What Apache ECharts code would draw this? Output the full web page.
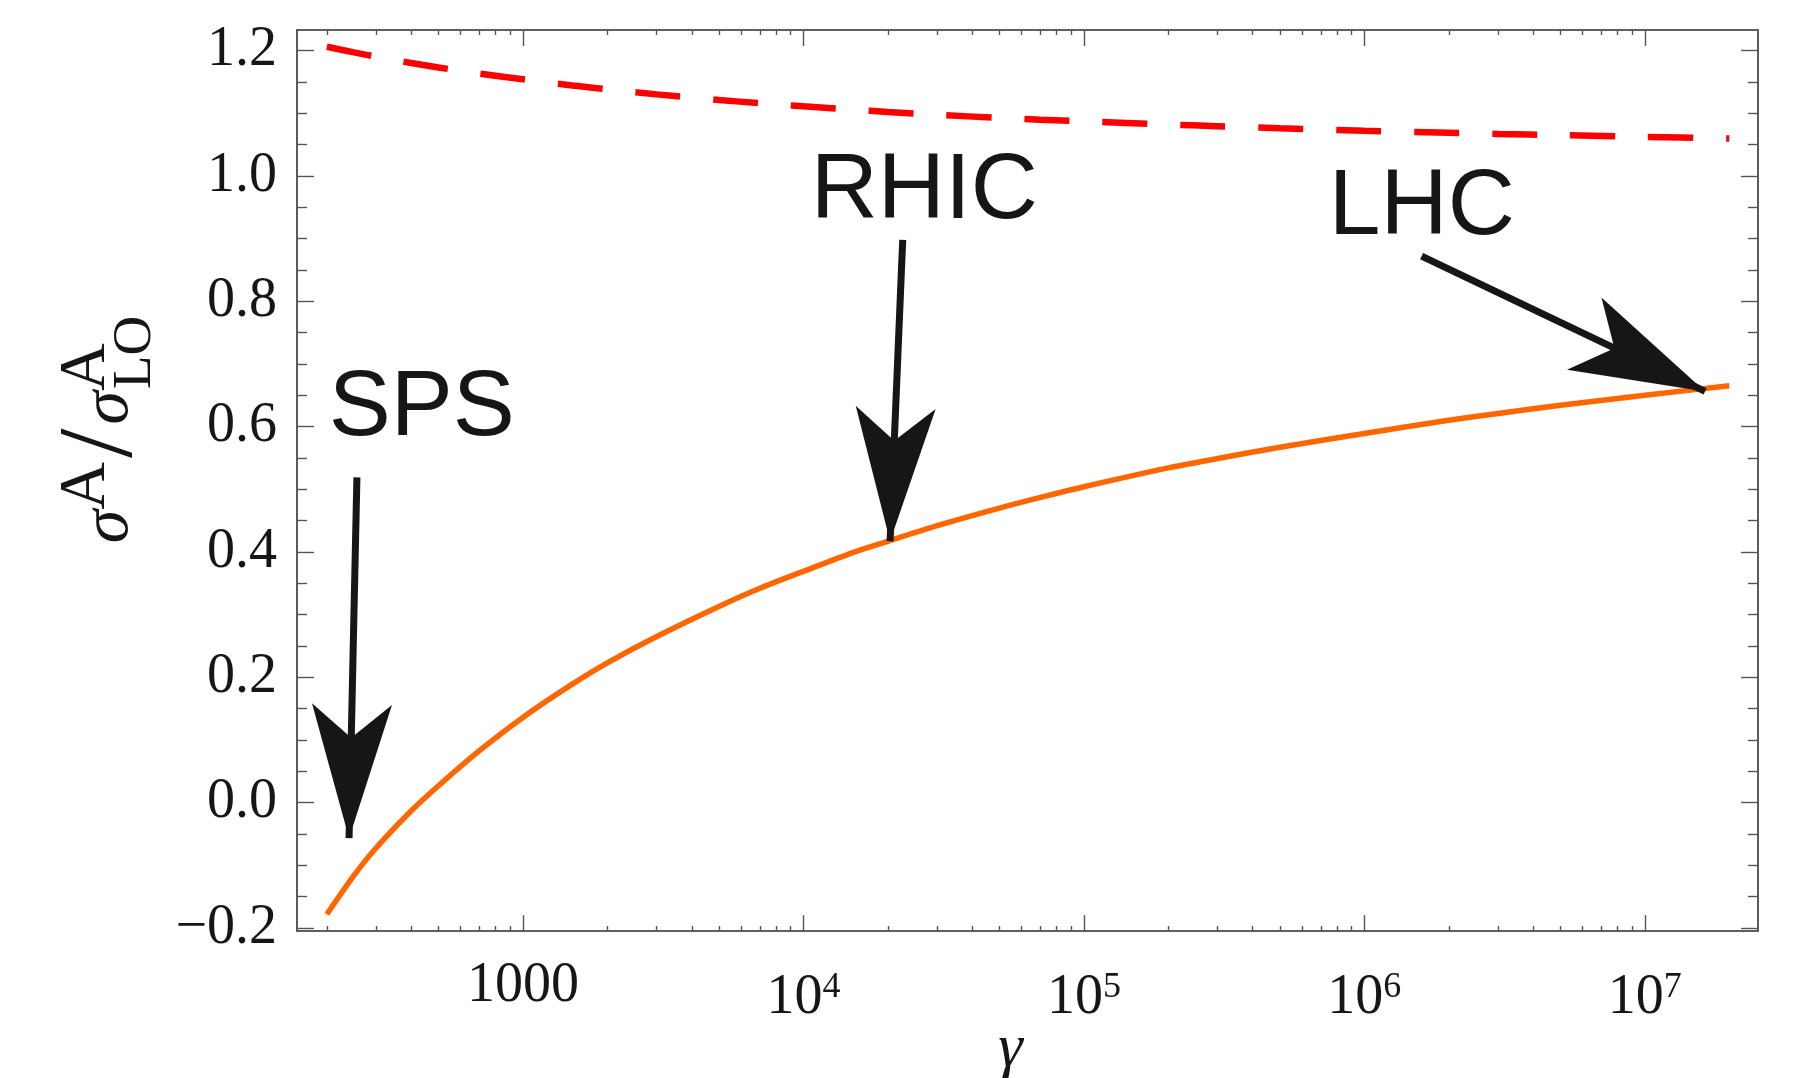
<!DOCTYPE html>
<html><head><meta charset="utf-8">
<script src="https://cdn.jsdelivr.net/npm/echarts@6.0.0/dist/echarts.min.js"></script>
<style>html,body{margin:0;padding:0;background:#fff}#c{width:1805px;height:1078px}</style>
</head><body><div id="c"></div>
<script>
// ---- data ----
const gammaValues = [200, 250, 300, 400, 500, 700, 1000, 1500, 2000, 3000, 5000, 7000, 1e4, 1.5e4, 2e4, 3e4, 5e4, 7e4, 1e5, 2e5, 3e5, 5e5, 1e6, 2e6, 3e6, 5e6, 1e7, 2e7];
const ratioSolid  = [-0.178, -0.116, -0.072, -0.013, 0.027, 0.083, 0.136, 0.189, 0.223, 0.265, 0.313, 0.342, 0.369, 0.399, 0.417, 0.442, 0.470, 0.487, 0.504, 0.534, 0.549, 0.567, 0.589, 0.610, 0.621, 0.634, 0.650, 0.665];
const ratioDashed = [1.206, 1.197, 1.190, 1.180, 1.173, 1.163, 1.154, 1.144, 1.138, 1.130, 1.121, 1.116, 1.111, 1.1057, 1.102, 1.0974, 1.0925, 1.0894, 1.087, 1.082, 1.0793, 1.076, 1.072, 1.0687, 1.0669, 1.0649, 1.0622, 1.0596];
const xMajorTicks = [1000, 1e4, 1e5, 1e6, 1e7];
const xMinorDecades = [100, 1000, 1e4, 1e5, 1e6];
const yMajorTicks = [-0.2, 0, 0.2, 0.4, 0.6, 0.8, 1.0, 1.2];
const annotationNames = ['SPS', 'RHIC', 'LHC'];
const annotationTextAt = [[436, 0.628], [26980, 0.973], [1.603e6, 0.948]];
const arrowFrom = [[256, 0.519], [22600, 0.898], [1.6e6, 0.872]];
const arrowTo   = [[240, -0.0567], [20370, 0.417], [1.64e7, 0.656]];

// ---- helpers ----
const L = Math.log10;
const LOG_MIN = 2.1946, LOG_MAX = 7.4034;
const Y_MIN = -0.2048, Y_MAX = 1.2327;
const FRAME = '#555555', INK = '#161616';
const SERIF = '"Liberation Serif", "Times New Roman", serif';
const SANS = '"Liberation Sans", Arial, sans-serif';

const xMajorLog = xMajorTicks.map(L);
const xMinorLog = [];
xMinorDecades.forEach(d => { for (let k = 2; k <= 9; k++) { const lv = L(k * d); if (lv > LOG_MIN && lv < LOG_MAX) xMinorLog.push(lv); } });
const yMinor = [];
for (let i = 0; i < yMajorTicks.length - 1; i++) {
  for (let j = 1; j <= 3; j++) yMinor.push(Math.round((yMajorTicks[i] + j * 0.05) * 100) / 100);
}

function axisCfg(pos, min, max, ticks, len, lab) {
  return {
    type: 'value', position: pos, min: min, max: max,
    axisLine: { show: true, onZero: false, lineStyle: { color: FRAME, width: 1.6 } },
    axisTick: { show: true, inside: true, length: len, customValues: ticks, lineStyle: { color: FRAME, width: 1.4 } },
    axisLabel: lab ? Object.assign({ show: true, color: INK, fontFamily: SERIF, fontSize: 56 }, lab) : { show: false },
    splitLine: { show: false }
  };
}
const xAxisCfg = (pos, ticks, len, lab) => axisCfg(pos, LOG_MIN, LOG_MAX, ticks, len, lab);
const yAxisCfg = (pos, ticks, len, lab) => axisCfg(pos, Y_MIN, Y_MAX, ticks, len, lab);

const powerRich = {
  base: { fontFamily: SERIF, fontSize: 56, lineHeight: 56, verticalAlign: 'bottom', color: INK },
  sup: { fontFamily: SERIF, fontSize: 36, lineHeight: 25, verticalAlign: 'top', color: INK }
};

const xBottomMajor = xAxisCfg('bottom', xMajorLog, 16, {
  customValues: xMajorLog.slice(1), margin: 39, rich: powerRich,
  formatter: v => '{base|10}{sup|' + Math.round(v) + '}'
});
Object.assign(xBottomMajor, {
  name: 'γ', nameLocation: 'middle', nameGap: 88, nameMoveOverlap: false,
  nameTextStyle: { fontFamily: SERIF, fontStyle: 'italic', fontSize: 62, color: INK, padding: [0, 34, 0, 0] }
});

const xBottomMinor = xAxisCfg('bottom', xMinorLog, 5, {
  customValues: [xMajorLog[0]], margin: 27,
  formatter: v => String(Math.round(Math.pow(10, v)))
});

const yLeftMajor = yAxisCfg('left', yMajorTicks, 17, {
  customValues: yMajorTicks, margin: 20,
  formatter: v => (v < 0 ? '\u2212' : '') + Math.abs(v).toFixed(1)
});
Object.assign(yLeftMajor, {
  name: '{s|σ}{a|A}{g|}{sl|/}{g|}{s|σ}{a2|A}{b|LO}',
  nameLocation: 'middle', nameRotate: 90, nameGap: 135, nameMoveOverlap: false,
  nameTextStyle: {
    color: INK, padding: [0, 0, 0, 102],
    rich: {
      s:  { align: 'left', fontFamily: SERIF, fontStyle: 'italic', fontSize: 68, lineHeight: 68, verticalAlign: 'middle', color: INK },
      a:  { align: 'left', fontFamily: SERIF, fontSize: 66, lineHeight: 66, verticalAlign: 'middle', padding: [0, 0, 44, 0], color: INK },
      a2: { align: 'left', fontFamily: SERIF, fontSize: 66, lineHeight: 66, verticalAlign: 'middle', padding: [0, 0, 44, 0], width: 2, color: INK },
      g:  { align: 'left', width: 4 },
      sl: { align: 'left', fontFamily: SERIF, fontSize: 106, lineHeight: 106, verticalAlign: 'middle', padding: [0, 0, 12, 0], color: INK },
      b:  { align: 'left', fontFamily: SERIF, fontSize: 55, lineHeight: 55, verticalAlign: 'middle', padding: [54, 0, 0, 0], color: INK }
    }
  }
});

const chart = echarts.init(document.getElementById('c'), null, { renderer: 'canvas' });
chart.setOption({
  animation: false,
  backgroundColor: '#ffffff',
  grid: { left: 297, right: 47, top: 30, bottom: 147, containLabel: false, outerBoundsMode: 'none' },
  xAxis: [
    xBottomMajor,
    xBottomMinor,
    xAxisCfg('top', xMajorLog, 16, null),
    xAxisCfg('top', xMinorLog, 5, null)
  ],
  yAxis: [
    yLeftMajor,
    yAxisCfg('left', yMinor, 10, null),
    yAxisCfg('right', yMajorTicks, 17, null),
    yAxisCfg('right', yMinor, 10, null)
  ],
  series: [
    {
      type: 'line', name: 'dashed', xAxisIndex: 0, yAxisIndex: 0,
      data: gammaValues.map((g, i) => [L(g), ratioDashed[i]]),
      showSymbol: false, smooth: 0.3, silent: true,
      lineStyle: { color: '#ff0000', width: 6.5, type: [45, 33], cap: 'butt' }
    },
    {
      type: 'line', name: 'solid', xAxisIndex: 0, yAxisIndex: 0,
      data: gammaValues.map((g, i) => [L(g), ratioSolid[i]]),
      showSymbol: false, smooth: 0.3, silent: true,
      lineStyle: { color: '#ff6600', width: 5.5 },
      markLine: {
        silent: true, animation: false,
        symbol: ['none', 'arrow'], symbolSize: [60, 134],
        lineStyle: { color: INK, width: 7, type: 'solid', opacity: 1, cap: 'butt' },
        itemStyle: { color: INK },
        label: { show: false }, emphasis: { disabled: true },
        data: arrowFrom.map((f, i) => [
          { coord: [L(f[0]), f[1]] },
          { coord: [L(arrowTo[i][0]), arrowTo[i][1]] }
        ])
      },
      markPoint: {
        silent: true, animation: false,
        symbol: 'rect', symbolSize: 1, itemStyle: { color: 'rgba(0,0,0,0)' },
        label: { show: true, position: 'inside', formatter: '{b}', fontFamily: SANS, fontSize: 93, color: INK },
        data: annotationNames.map((n, i) => ({ name: n, coord: [L(annotationTextAt[i][0]), annotationTextAt[i][1]] }))
      }
    }
  ]
});
</script></body></html>
